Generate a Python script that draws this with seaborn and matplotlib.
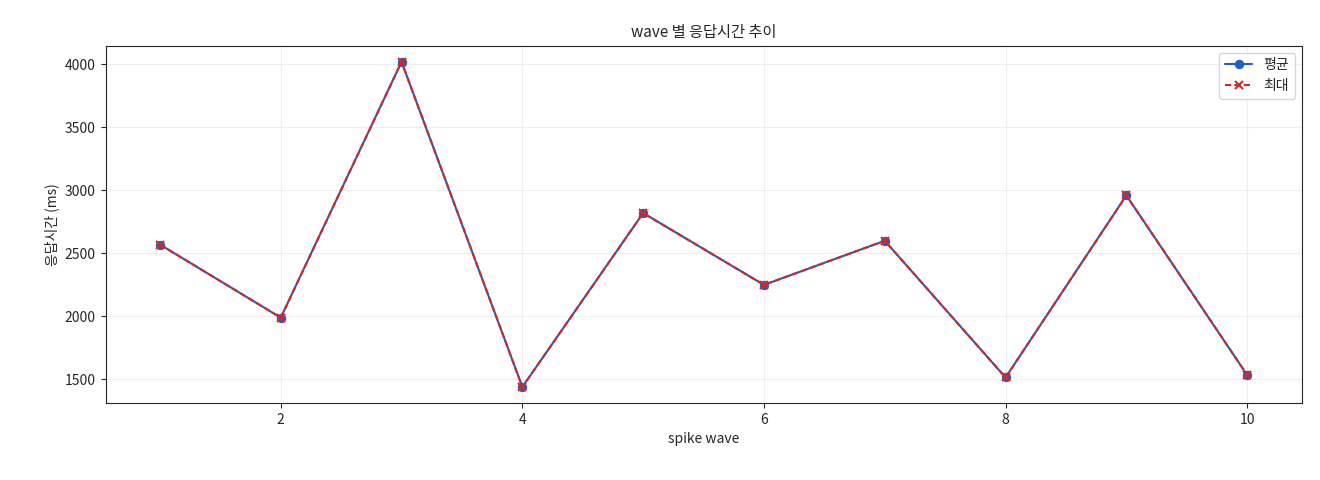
import matplotlib
matplotlib.use("Agg")
import matplotlib.pyplot as plt
import seaborn as sns
import pandas as pd

waves = [1, 2, 3, 4, 5, 6, 7, 8, 9, 10]
avg_ms = [2570, 1990, 4020, 1440, 2820, 2250, 2600, 1515, 2960, 1535]
max_ms = [2570, 1990, 4020, 1440, 2820, 2250, 2600, 1515, 2960, 1535]

sns.set_style("ticks")
plt.rcParams['font.family'] = ['Noto Sans CJK KR', 'DejaVu Sans']
plt.rcParams['axes.unicode_minus'] = False

df = pd.DataFrame({"wave": waves, "avg": avg_ms, "max": max_ms})
fig, ax = plt.subplots(figsize=(13.2, 4.8), dpi=100)
sns.lineplot(data=df, x="wave", y="avg", ax=ax, color="#1f5fbf", marker="o",
             markersize=6, markeredgecolor="#1f5fbf", label="평균", linewidth=1.5)
sns.lineplot(data=df, x="wave", y="max", ax=ax, color="#d62728", marker="x",
             markersize=6, markeredgecolor="#d62728", markeredgewidth=1.5,
             dashes=(3, 1.5), label="최대", linewidth=1.5)
ax.set_title("wave 별 응답시간 추이", fontsize=11)
ax.set_xlabel("spike wave", fontsize=10)
ax.set_ylabel("응답시간 (ms)", fontsize=10)
ax.grid(True, alpha=0.3)
ax.legend(loc="upper right")
fig.subplots_adjust(left=0.08, right=0.986, top=0.905, bottom=0.16)
fig.savefig("out.png", dpi=100)
